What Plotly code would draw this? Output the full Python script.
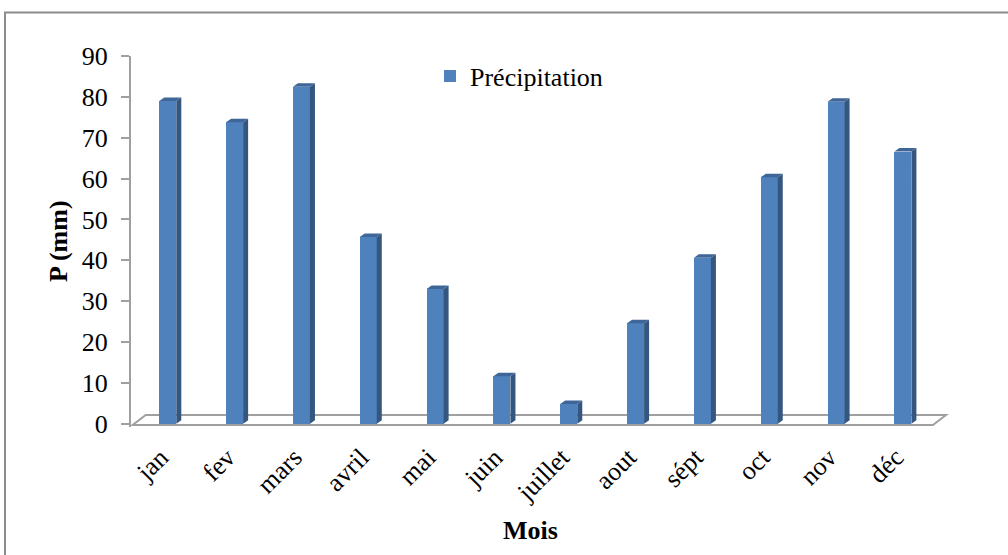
import plotly.graph_objects as go

# ---- data ----
mois = ["jan", "fev", "mars", "avril", "mai", "juin", "juillet", "aout", "sépt", "oct", "nov", "déc"]
precip = [79.0, 73.8, 82.5, 45.7, 33.0, 11.6, 4.8, 24.6, 40.6, 60.3, 78.8, 66.6]
y_ticks = [0, 10, 20, 30, 40, 50, 60, 70, 80, 90]

# ---- layout geometry ----
W_FIG, H_FIG = 1008, 555
M_L, M_R, M_T, M_B = 131, 55, 56, 128
X_RANGE = [-0.55, len(mois) - 0.25]
Y_RANGE = [-0.8, 90]
PW = W_FIG - M_L - M_R
PH = H_FIG - M_T - M_B

def px_x(px):
    return (px - M_L) / PW

def px_y(py):
    return (H_FIG - M_B - py) / PH

BAR_W = 0.255   # front face width (x units)
DX = 0.075      # depth offset of bars (x units)
DY = 0.86       # depth offset of bars (y units)
FDX = 0.195     # floor depth (x units)
FDY = 2.45      # floor depth (y units)
FRONT_Y = -0.3

FRONT = "#4F81BD"
SIDE = "#34567F"
TOP = "#3E6698"
GRAY = "#A0A0A0"
FONT = "Liberation Serif"
FS = 26

x_pos = list(range(len(mois)))

side_x, side_y, top_x, top_y = [], [], [], []
for i, v in zip(x_pos, precip):
    xl, xr = i - BAR_W / 2, i + BAR_W / 2
    side_x += [xr, xr + DX, xr + DX, xr, xr, None]
    side_y += [0, DY, v + DY, v, 0, None]
    top_x += [xl, xl + DX, xr + DX, xr, xl, None]
    top_y += [v, v + DY, v + DY, v, v, None]

fig = go.Figure()
fig.add_trace(go.Bar(
    x=x_pos, y=precip, width=BAR_W, name="Précipitation",
    marker=dict(color=FRONT, line=dict(width=0)), showlegend=True,
))
fig.add_trace(go.Scatter(
    x=side_x, y=side_y, mode="lines", fill="toself", fillcolor=SIDE,
    line=dict(width=0, color=SIDE), showlegend=False, hoverinfo="skip",
))
fig.add_trace(go.Scatter(
    x=top_x, y=top_y, mode="lines", fill="toself", fillcolor=TOP,
    line=dict(width=0, color=TOP), showlegend=False, hoverinfo="skip",
))

# floor
fx0 = -0.525
fx1 = len(mois) - 0.55
floor_path = (f"M {fx0},{FRONT_Y} L {fx1},{FRONT_Y} L {fx1 + FDX},{FRONT_Y + FDY} "
              f"L {fx0 + FDX},{FRONT_Y + FDY} Z")

shapes = [
    dict(type="path", path=floor_path, xref="x", yref="y", layer="below",
         line=dict(color=GRAY, width=2), fillcolor="white"),
    # chart border (top and left edges visible)
    dict(type="line", xref="paper", yref="paper", x0=px_x(4), x1=px_x(1010),
         y0=px_y(12.5), y1=px_y(12.5), line=dict(color="#8C8C8C", width=2)),
    dict(type="line", xref="paper", yref="paper", x0=px_x(5), x1=px_x(5),
         y0=px_y(12.5), y1=px_y(560), line=dict(color="#8C8C8C", width=2)),
]

annotations = [
    dict(text="<b>P (mm)</b>", xref="paper", yref="paper", x=px_x(58), y=px_y(241),
         textangle=-90, showarrow=False, font=dict(family=FONT, size=FS, color="black"),
         xanchor="center", yanchor="middle"),
    dict(text="<b>Mois</b>", xref="paper", yref="paper", x=px_x(530), y=px_y(530),
         showarrow=False, font=dict(family=FONT, size=FS, color="black"),
         xanchor="center", yanchor="middle"),
]

fig.update_layout(
    width=W_FIG, height=H_FIG,
    margin=dict(l=M_L, r=M_R, t=M_T, b=M_B),
    paper_bgcolor="white", plot_bgcolor="rgba(0,0,0,0)",
    font=dict(family=FONT, size=FS, color="black"),
    shapes=shapes, annotations=annotations,
    showlegend=True,
    legend=dict(x=px_x(430), y=px_y(76), xanchor="left", yanchor="middle",
                bgcolor="rgba(0,0,0,0)", font=dict(family=FONT, size=FS, color="black"),
                itemwidth=30),
    xaxis=dict(range=X_RANGE, tickvals=x_pos, ticktext=mois, tickangle=-45,
               showgrid=False, zeroline=False, showline=False, ticks="",
               ticklabelstandoff=9, ticklabelshift=-7,
               tickfont=dict(family=FONT, size=FS, color="black")),
    yaxis=dict(range=Y_RANGE, tickvals=y_ticks, showgrid=False, zeroline=False,
               showline=True, linecolor=GRAY, linewidth=2,
               ticks="outside", ticklen=8, tickwidth=2, tickcolor=GRAY,
               ticklabelstandoff=8,
               tickfont=dict(family=FONT, size=FS, color="black")),
    bargap=0,
)

fig.write_html("out.html")
